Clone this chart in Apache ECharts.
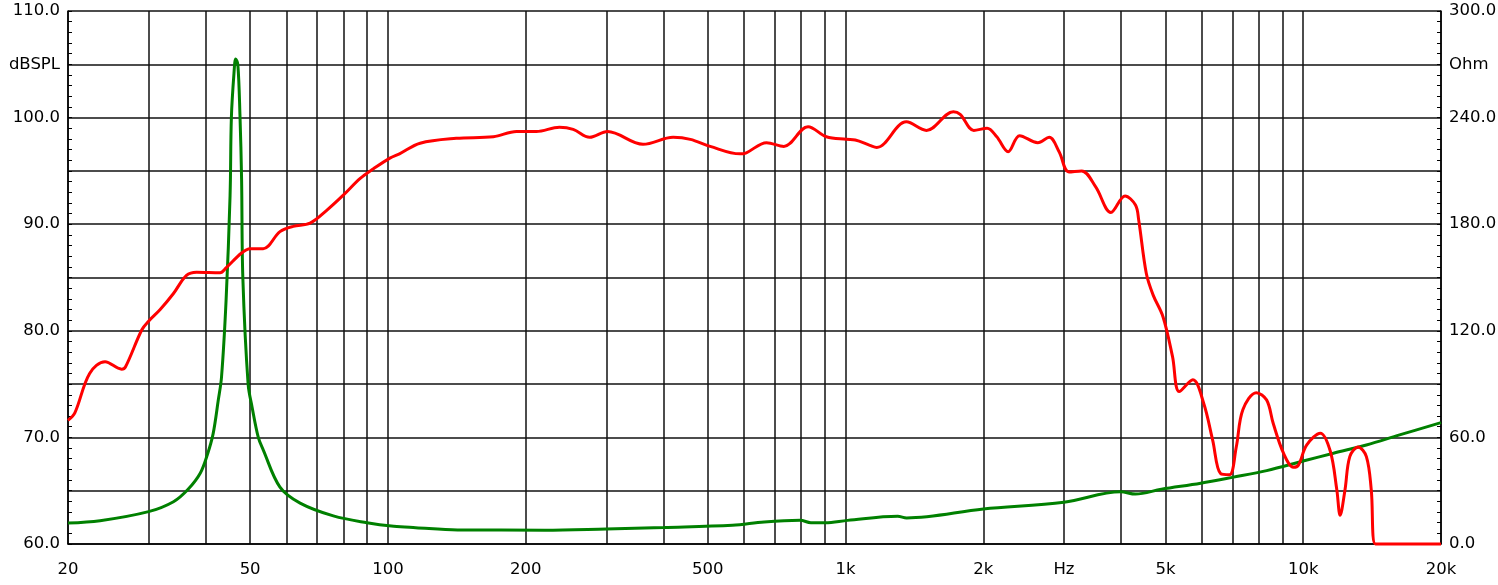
<!DOCTYPE html>
<html>
<head>
<meta charset="utf-8">
<script src="https://cdn.jsdelivr.net/npm/echarts@6/dist/echarts.min.js"></script>
<style>
  html, body { margin: 0; padding: 0; background: #fff; }
  #chart { width: 1498px; height: 585px; }
</style>
</head>
<body>
<div id="chart"></div>
<script>
// grid frequencies (vertical lines) and bottom labels
const gridFreqs = [20, 30, 40, 50, 60, 70, 80, 90, 100, 200, 300, 400, 500, 600, 700, 800, 900,
  1000, 2000, 3000, 4000, 5000, 6000, 7000, 8000, 9000, 10000, 20000];
const labelFreqs = [20, 50, 100, 200, 500, 1000, 2000, 3000, 5000, 10000, 20000];
const labelTexts = ['20', '50', '100', '200', '500', '1k', '2k', 'Hz', '5k', '10k', '20k'];

// SPL response (dB)
const splFreq = [20, 20.7, 22.3, 24.1, 26.2, 26.7, 29, 30, 31.8, 34, 36.3, 38.2, 43, 44.3, 47.9, 50,
  53.4, 58.1, 62.1, 67.6, 73.5, 79.8, 87, 93, 101, 106, 117.6, 141, 170, 191, 211, 237, 254, 276,
  302, 361, 420, 458, 506, 588, 607, 672, 733, 828, 908, 1004, 1050, 1130, 1170, 1358, 1502, 1720,
  1780, 1906, 2038, 2140, 2266, 2400, 2630, 2786, 2928, 3076, 3280, 3520, 3800, 4080, 4300, 4370,
  4540, 4700, 4940, 5180, 5360, 5740, 6060, 6340, 6600, 6900, 7140, 7380, 7900, 8320, 8600, 9060,
  9520, 9760, 10180, 10900, 11460, 11840, 12040, 12340, 12640, 13180, 13740, 14080, 14380, 20000];
const splDb = [71.6, 72.3, 76.0, 77.1, 76.4, 76.6, 80.1, 80.9, 82.0, 83.5, 85.2, 85.5, 85.45, 85.9,
  87.3, 87.7, 87.7, 89.3, 89.8, 90.1, 91.3, 92.7, 94.3, 95.2, 96.2, 96.6, 97.6, 98.06, 98.2, 98.7,
  98.7, 99.1, 98.9, 98.15, 98.7, 97.5, 98.15, 97.96, 97.3, 96.6, 96.7, 97.65, 97.3, 99.15, 98.2,
  97.96, 97.9, 97.4, 97.2, 99.6, 98.8, 100.55, 100.3, 98.8, 99.0, 98.2, 96.8, 98.3, 97.65, 98.15,
  96.8, 94.9, 95.0, 93.5, 91.1, 92.65, 91.8, 90.4, 85.4, 83.35, 81.3, 77.6, 74.3, 75.4, 73.2,
  69.75, 66.6, 66.5, 69.1, 72.6, 74.2, 73.5, 71.3, 68.5, 67.2, 67.4, 69.3, 70.4, 68.7, 65.1, 62.7,
  65.1, 68.2, 69.1, 68.2, 65.1, 60.0, 60.0];

// impedance (Ohm)
const impFreq = [20, 23.5, 30, 34, 36.6, 38.9, 40.3, 41.5, 42.6, 43.3, 44.3, 45.2, 45.5, 46.1, 46.5,
  47.0, 47.5, 47.9, 48.2, 49.5, 50.5, 52.1, 53.4, 58.1, 64.3, 76, 90, 103, 115, 142, 220, 300, 400,
  566, 664, 796, 840, 903, 1010, 1300, 1360, 2000, 3000, 3990, 4300, 4900, 5970, 7000, 8320, 10000,
  11640, 13740, 16240, 20000];
const impOhm = [11.8, 13.1, 18.2, 23.8, 30.8, 39.8, 50.1, 62, 81, 94, 137, 196, 240, 265, 273,
  270, 242, 205, 150, 90, 77, 60, 53, 32, 23, 15.8, 12.0, 10.0, 9.2, 7.9, 7.8, 8.5, 9.3,
  10.5, 12.4, 13.3, 12.0, 12.0, 13.3, 15.6, 14.7, 19.7, 23.5, 29.4, 28.1, 30.8, 34.2, 37.5, 41.3,
  46.7, 51.1, 55.7, 61.4, 68.3];

const font = 'DejaVu Sans';
const fontSize = 16.5;

let myChart = echarts.init(document.getElementById('chart'), null, { renderer: 'canvas' });

const option = {
  backgroundColor: '#fff',
  animation: false,
  grid: { left: 68, right: 57, top: 11, bottom: 41, outerBoundsMode: 'none', containLabel: false },
  xAxis: {
    type: 'log',
    logBase: 10,
    min: 20,
    max: 20000,
    axisLine: { show: true, lineStyle: { color: '#000', width: 1.5 } },
    axisTick: { show: false, customValues: gridFreqs },
    splitLine: { show: true, lineStyle: { color: '#111', width: 1.5 } },
    axisLabel: {
      customValues: labelFreqs,
      margin: 17,
      color: '#000',
      fontFamily: font,
      fontSize: fontSize,
      formatter: function (v) {
        const i = labelFreqs.indexOf(Math.round(v));
        return i >= 0 ? labelTexts[i] : '';
      }
    }
  },
  yAxis: [
    {
      type: 'value',
      min: 60,
      max: 110,
      interval: 5,
      axisLine: { show: true, lineStyle: { color: '#000', width: 1.5 } },
      axisTick: { show: true, inside: true, length: 4, lineStyle: { color: '#000' } },
      minorTick: { show: true, splitNumber: 5, length: 4, lineStyle: { color: '#000' } },
      splitLine: { show: true, lineStyle: { color: '#111', width: 1.5 } },
      axisLabel: {
        margin: 8,
        color: '#000',
        fontFamily: font,
        fontSize: fontSize,
        showMinLabel: true,
        showMaxLabel: true,
        formatter: function (v) {
          if (v === 105) return 'dBSPL';
          return v % 10 === 0 ? v.toFixed(1) : '';
        }
      }
    },
    {
      type: 'value',
      min: 0,
      max: 300,
      interval: 30,
      position: 'right',
      axisLine: { show: true, lineStyle: { color: '#000', width: 1.5 } },
      axisTick: { show: true, inside: true, length: 4, lineStyle: { color: '#000' } },
      minorTick: { show: true, splitNumber: 5, length: 4, lineStyle: { color: '#000' } },
      splitLine: { show: false },
      axisLabel: {
        margin: 8,
        color: '#000',
        fontFamily: font,
        fontSize: fontSize,
        showMinLabel: true,
        showMaxLabel: true,
        formatter: function (v) {
          if (v === 270) return 'Ohm';
          return v % 60 === 0 ? v.toFixed(1) : '';
        }
      }
    }
  ],
  series: [
    {
      name: 'Impedance',
      type: 'line',
      yAxisIndex: 1,
      data: impFreq.map((f, i) => [f, impOhm[i]]),
      showSymbol: false,
      smooth: 0.35,
      clip: false,
      lineStyle: { color: '#008000', width: 3 }
    },
    {
      name: 'SPL',
      type: 'line',
      yAxisIndex: 0,
      data: splFreq.map((f, i) => [f, splDb[i]]),
      showSymbol: false,
      smooth: 0.35,
      clip: false,
      lineStyle: { color: '#ff0000', width: 3 }
    }
  ]
};
myChart.setOption(option);
</script>
</body>
</html>
